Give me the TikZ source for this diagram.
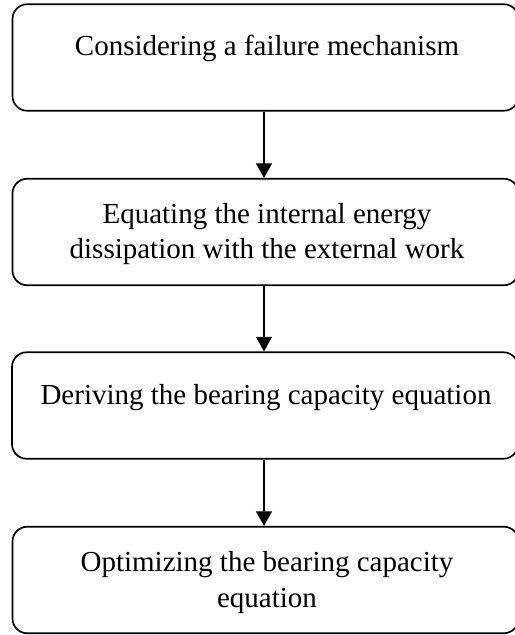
\documentclass[tikz,border=0pt]{standalone}
\usepackage{fontspec}
\setmainfont{Liberation Serif}
\usetikzlibrary{arrows.meta}
\begin{document}
\begin{tikzpicture}[x=0.75pt,y=-0.75pt,
  box/.style={draw=black,line width=1.25pt,rounded corners=11pt,minimum width=506*0.75pt,minimum height=106.5*0.75pt,inner sep=0pt},
  txt/.style={font=\fontsize{21.75}{26.8}\selectfont,align=center,inner sep=0pt},
  flow/.style={draw=black,line width=1.25pt,-{Triangle[width=12pt,length=11pt]}}]
\useasboundingbox (0,0) rectangle (514,635);
\node[box] (b1) at (265.5,57.5) {};
\node[box] (b2) at (265.5,232) {};
\node[box] (b3) at (265,405.5) {};
\node[box] (b4) at (265.5,580) {};
\node[txt,anchor=base] (t1) at (267,56) {Considering a failure mechanism};
\node[txt] (t2) at (267,234) {Equating the internal energy\\dissipation with the external work};
\node[txt,anchor=base] (t3) at (266,404) {Deriving the bearing capacity equation};
\node[txt] (t4) at (267,582.5) {Optimizing the bearing capacity\\equation};
\coordinate (a1) at (264,0);
\draw[flow] (b1.south -| a1) -- (b2.north -| a1);
\draw[flow] (b2.south -| a1) -- (b3.north -| a1);
\draw[flow] (b3.south -| a1) -- (b4.north -| a1);
\end{tikzpicture}
\end{document}
